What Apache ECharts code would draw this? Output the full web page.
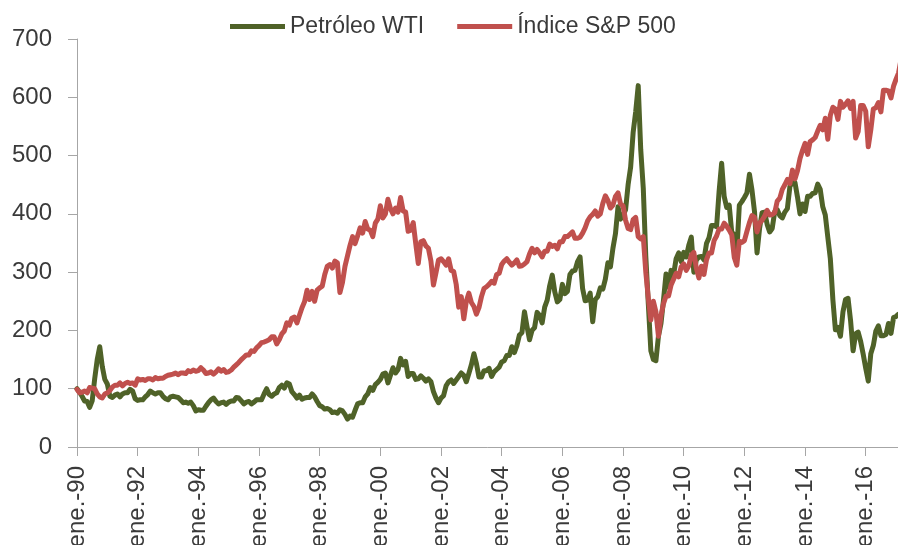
<!DOCTYPE html>
<html>
<head>
<meta charset="utf-8">
<script src="https://cdn.jsdelivr.net/npm/echarts@6/dist/echarts.min.js"></script>
<style>
html,body{margin:0;padding:0;background:#fff;}
#chart{width:898px;height:545px;}
</style>
</head>
<body>
<div id="chart"></div>
<script>
// Monthly categories Jan 1990 .. Mar 2017
var monthNames = ['ene.','feb.','mar.','abr.','may.','jun.','jul.','ago.','sep.','oct.','nov.','dic.'];
var startYear = 1990, endYear = 2017, endMonth = 3;
var categories = [];
for (var y = startYear; y <= endYear; y++) {
  for (var m = 0; m < 12; m++) {
    if (y === endYear && m >= endMonth) break;
    categories.push(monthNames[m] + '-' + String(y).slice(2));
  }
}

var seriesNames = ['Petróleo WTI', 'Índice S&P 500'];

// Petróleo WTI, index (ene.-90 = 100)
var wti = [
  100, 94, 87, 79, 78, 68, 79, 117, 150, 172, 138, 116,
  108, 87, 85, 89, 91, 86, 91, 93, 93, 99, 96, 83,
  80, 81, 81, 86, 90, 96, 93, 91, 93, 93, 87, 83,
  81, 86, 87, 86, 85, 81, 76, 77, 75, 77, 71, 62,
  64, 63, 63, 70, 76, 81, 84, 78, 74, 76, 77, 73,
  77, 79, 79, 85, 84, 79, 74, 77, 78, 74, 77, 81,
  81, 81, 91, 100, 90, 87, 91, 93, 102, 106, 101, 110,
  108, 95, 90, 84, 89, 82, 84, 85, 85, 91, 86, 78,
  71, 69, 65, 66, 64, 59, 60, 58, 64, 62, 56, 48,
  53, 51, 63, 74, 76, 76, 86, 91, 102, 97, 107, 111,
  116, 125, 127, 110, 123, 136, 127, 133, 152, 141, 147, 121,
  126, 126, 116, 117, 122, 118, 113, 117, 112, 95, 84, 76,
  84, 88, 105, 112, 115, 109, 115, 121, 127, 123, 112, 126,
  141, 160, 143, 120, 120, 131, 131, 135, 121, 129, 133, 137,
  146, 148, 157, 157, 172, 162, 174, 192, 196, 232, 207, 184,
  200, 205, 231, 226, 213, 240, 252, 277, 295, 266, 249, 253,
  279, 263, 267, 296, 302, 303, 318, 326, 272, 251, 252, 264,
  215, 253, 258, 273, 271, 288, 316, 309, 341, 366, 412, 391,
  397, 407, 450, 480, 540, 575, 620, 510, 444, 327, 245, 165,
  150, 148, 190, 212, 252, 297, 274, 303, 296, 323, 333, 318,
  334, 326, 346, 360, 300, 321, 326, 327, 321, 349, 359, 380,
  380, 378, 439, 487, 430, 411, 415, 368, 365, 335, 415, 421,
  428, 436, 468, 441, 404, 333, 375, 402, 403, 382, 369, 375,
  404, 407, 397, 393, 403, 409, 447, 455, 454, 429, 400, 417,
  404, 430, 430, 435, 436, 451, 442, 412, 398, 360, 323, 253,
  201, 205, 190, 232, 253, 255, 217, 165, 194, 197, 181, 159,
  135, 113, 160, 174, 199, 208, 191, 191, 193, 212, 195, 222,
  224, 228, 228
];

// Índice S&P 500, index (ene.-90 = 100)
var sp500 = [
  99, 93, 94, 96, 93, 102, 101, 100, 91, 86, 84, 91,
  93, 97, 103, 106, 106, 110, 105, 109, 111, 109, 110, 106,
  117, 115, 116, 114, 117, 117, 115, 119, 117, 118, 118, 121,
  123, 124, 125, 127, 124, 127, 127, 126, 131, 129, 132, 130,
  131, 136, 132, 126, 127, 129, 125, 129, 134, 130, 133, 128,
  129, 132, 137, 141, 145, 150, 154, 158, 158, 165, 164, 170,
  174, 179, 180, 182, 184, 189, 189, 177, 184, 194, 199, 213,
  209, 221, 223, 213, 226, 239, 249, 269, 253, 267, 250, 269,
  273, 276, 296, 310, 313, 307, 319, 316, 265, 282, 310, 328,
  346, 361, 349, 362, 376, 367, 387, 374, 372, 361, 384, 391,
  414, 393, 400, 425, 409, 400, 410, 403, 428, 405, 403, 370,
  372, 385, 349, 315, 352, 354, 345, 341, 319, 278, 299, 321,
  323, 318, 312, 323, 303, 301, 279, 240, 258, 220, 250, 264,
  248, 241, 228, 239, 258, 272, 275, 279, 284, 281, 296, 298,
  313, 319, 323, 317, 312, 316, 321, 310, 311, 314, 318, 331,
  341, 333, 339, 333, 326, 336, 336, 348, 344, 346, 340, 352,
  352, 361, 361, 365, 369, 358, 358, 360, 367, 376, 388, 395,
  399, 405, 396, 400, 418, 431, 423, 410, 415, 430, 436, 417,
  414, 389, 375, 373, 390, 394, 361, 357, 361, 300, 255, 218,
  250, 232, 190, 225, 246, 259, 259, 278, 288, 298, 292, 309,
  314, 303, 311, 329, 334, 307, 290, 310, 296, 321, 333, 333,
  354, 362, 374, 374, 384, 379, 372, 364, 325, 312, 353, 351,
  354, 370, 385, 397, 394, 369, 384, 389, 396, 406, 398, 399,
  402, 422, 427, 442, 450, 459, 452, 475, 460, 474, 495, 509,
  521, 502, 524, 527, 531, 542, 552, 544, 564, 528, 569, 583,
  580, 562, 593, 583, 588, 594, 581, 593, 530, 541, 586, 586,
  576, 515, 544, 580, 582, 591, 575, 612, 612, 611, 599, 619,
  631, 642, 666
];

var yTicks = {min: 0, max: 700, step: 100};
var labelEvery = 24;

var FONT = "'Liberation Sans', Arial, sans-serif";
var TXT = '#3a3a3a';
var AX = '#A6A6A6';

var chart = echarts.init(document.getElementById('chart'), null, {renderer: 'canvas'});
chart.setOption({
  animation: false,
  backgroundColor: '#ffffff',
  color: ['#4F6228', '#C0504D'],
  textStyle: {fontFamily: FONT},
  legend: {
    data: seriesNames,
    left: 230,
    top: 15,
    padding: 0,
    icon: 'rect',
    itemWidth: 55,
    itemHeight: 5,
    itemGap: 33,
    textStyle: {fontSize: 23, color: TXT, fontFamily: FONT}
  },
  grid: {
    left: 77, top: 39, width: (categories.length - 1) * 2.528, bottom: 98,
    containLabel: false, outerBoundsMode: 'none'
  },
  xAxis: {
    type: 'category',
    data: categories,
    boundaryGap: false,
    axisLine: {lineStyle: {color: AX, width: 1}},
    axisTick: {show: true, interval: labelEvery - 1, length: 9, lineStyle: {color: AX}},
    axisLabel: {
      interval: labelEvery - 1,
      rotate: 90,
      margin: 19,
      fontSize: 24,
      color: TXT,
      fontFamily: FONT
    },
    splitLine: {show: false}
  },
  yAxis: {
    type: 'value',
    min: yTicks.min,
    max: yTicks.max,
    interval: yTicks.step,
    axisLine: {show: true, lineStyle: {color: AX, width: 1}},
    axisTick: {show: true, length: 9, lineStyle: {color: AX}},
    axisLabel: {fontSize: 24, color: TXT, margin: 25, fontFamily: FONT},
    splitLine: {show: false}
  },
  series: [
    {
      name: seriesNames[0],
      type: 'line',
      data: wti,
      symbol: 'none',
      smooth: false,
      lineStyle: {width: 5, color: '#4F6228', join: 'round', cap: 'round'},
      z: 2
    },
    {
      name: seriesNames[1],
      type: 'line',
      data: sp500,
      symbol: 'none',
      smooth: false,
      lineStyle: {width: 5, color: '#C0504D', join: 'round', cap: 'round'},
      z: 3
    }
  ]
});
</script>
</body>
</html>
